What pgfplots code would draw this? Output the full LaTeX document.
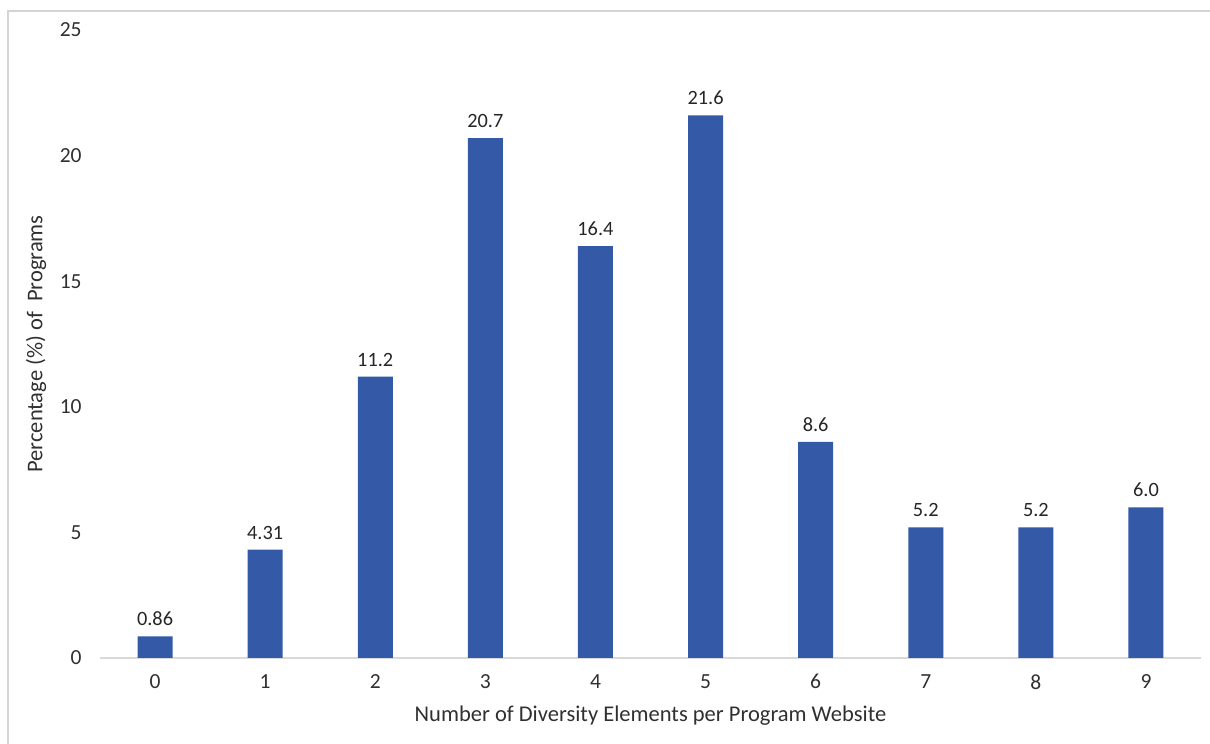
\documentclass[border=0pt]{standalone}
\usepackage{pgfplots}
\pgfplotsset{compat=1.18}
\usepackage{fontspec}
\setmainfont{Carlito}
\definecolor{barblue}{HTML}{3359A7}
\definecolor{axgray}{HTML}{D9D9D9}
\definecolor{framegray}{HTML}{D4D4D4}
\definecolor{txt}{HTML}{303030}
\begin{document}
\begin{tikzpicture}
\useasboundingbox (0,0) rectangle (605bp,372bp);
\draw[color=framegray, line width=0.7bp] (4bp,-1bp) -- (4bp,366.5bp) -- (606bp,366.5bp);
\begin{axis}[
  at={(50bp,43bp)}, anchor=south west,
  scale only axis, width=550.5bp, height=314bp,
  xmin=-0.5, xmax=9.5, ymin=0, ymax=25,
  axis x line=bottom, axis y line=left,
  axis line style={-},
  x axis line style={draw=axgray, line width=0.9bp},
  y axis line style={draw=none},
  xtick={0,...,9}, ytick={0,5,...,25},
  major tick length=0,
  tick label style={font=\fontsize{10.8}{12}\selectfont, text=txt},
  /pgf/number format/assume math mode=true,
  yticklabel style={anchor=east, inner sep=0pt, xshift=-9bp},
  xticklabel style={anchor=north, inner sep=0pt, yshift=-8bp},
  xlabel={Number of Diversity Elements per Program Website},
  ylabel={Percentage (\%) of\ \ Programs},
  xlabel style={at={(axis description cs:0.5,-0.0924)}, anchor=center, font=\fontsize{11.3}{13}\selectfont, text=txt},
  ylabel style={at={(axis description cs:-0.058,0.5)}, anchor=center, font=\fontsize{11.3}{13}\selectfont, text=txt},
  clip=false,
]
\addplot[ybar, bar width=17.5bp, fill=barblue, draw=none,
  nodes near coords, point meta=explicit symbolic,
  every node near coord/.append style={anchor=south, inner sep=0pt, yshift=5bp, font=\fontsize{10.2}{12}\selectfont, text=black!85}]
  table[x=x, y=y, meta=lab] {
x y lab
0 0.86 0.86
1 4.31 4.31
2 11.2 11.2
3 20.7 20.7
4 16.4 16.4
5 21.6 21.6
6 8.6 8.6
7 5.2 5.2
8 5.2 5.2
9 6.0 6.0
};
\end{axis}
\end{tikzpicture}
\end{document}
